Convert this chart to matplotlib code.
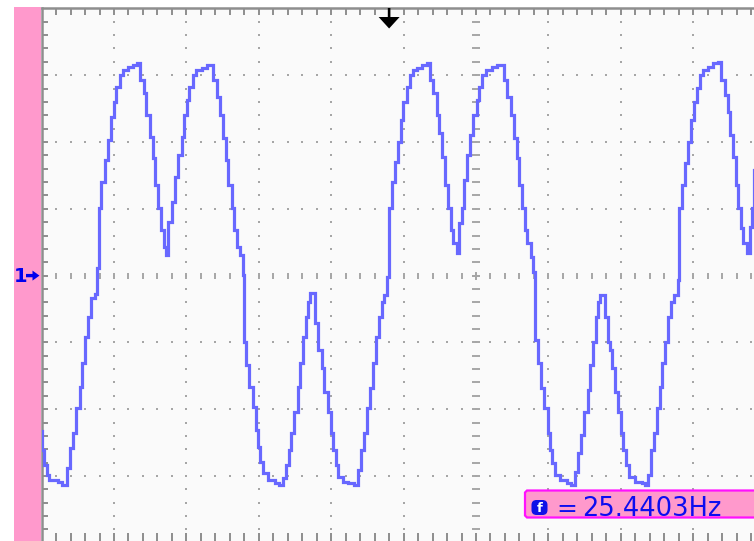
import numpy as np
import matplotlib
matplotlib.use("Agg")
import matplotlib.pyplot as plt
from matplotlib.patches import Polygon, Rectangle, FancyBboxPatch
from matplotlib.transforms import Affine2D, blended_transform_factory

# Channel 1 record: time (ms from the left screen edge) and amplitude (divisions)
time_ms = [
    0.00, 0.12, 0.40, 0.68, 1.02, 2.27, 2.82,
    3.55, 3.88, 4.34, 4.79, 5.26, 5.62, 6.04, 6.41, 6.86, 7.33,
    7.69, 7.93, 8.25, 8.72, 9.17, 9.54, 10.00, 10.32, 10.79, 11.24, 11.93, 12.62, 13.22,
    13.55, 14.14, 14.46, 14.93, 15.39, 15.70, 16.08, 16.45, 16.91, 17.22,
    17.50, 17.97, 18.43, 18.88, 19.35, 19.67, 20.04, 20.40, 20.87, 21.33, 22.11, 22.80,
    23.63, 24.19, 24.64, 25.01, 25.47, 25.79, 26.26, 26.57, 27.03, 27.40, 27.78,
    27.96, 28.23, 28.69, 29.16, 29.61, 29.93, 30.17, 30.62, 31.31, 32.24, 32.83,
    33.34, 33.76, 34.17, 34.45, 34.90, 35.37, 35.69, 36.15, 36.48, 36.84, 37.07,
    37.72, 38.22, 38.69, 39.05, 39.52, 39.97, 40.29, 40.62, 40.98, 41.67, 42.36, 43.19,
    43.66, 44.12, 44.57, 44.90, 45.36, 45.82, 46.15, 46.60, 46.98, 47.33, 47.67,
    47.98, 48.36, 48.81, 49.27, 49.64, 49.96, 50.43, 50.88, 51.30, 51.85, 52.50, 53.19,
    53.65, 54.10, 54.57, 54.93, 55.26, 55.72, 56.17, 56.51, 56.86, 57.33,
    57.69, 58.02, 58.34, 58.72, 59.17, 59.63, 60.10, 60.46, 60.79, 61.38, 62.17, 62.86,
    63.87, 64.32, 64.79, 65.25, 65.62, 65.98, 66.31, 66.77, 67.09, 67.56, 67.91,
    68.15, 68.52, 68.98, 69.43, 69.90, 70.22, 70.54, 70.91, 71.60, 72.53, 73.12,
    73.67, 74.05, 74.50, 74.96, 75.43, 75.75, 76.20, 76.53, 76.89, 77.13,
    77.82, 78.19, 78.51, 78.83, 79.20, 79.65, 80.03, 80.35, 80.68, 81.13, 81.96, 82.89, 83.34,
    83.80, 84.17, 84.63, 84.96, 85.41, 85.73, 86.10, 86.48, 86.93, 87.39, 87.86,
    88.08, 88.49, 88.87, 89.32, 89.70, 90.15, 90.48, 90.94, 91.40, 92.09, 92.78, 93.47,
    93.84, 94.39, 94.77, 95.08, 95.54, 95.87, 96.23, 96.60, 96.92, 97.39,
    97.85, 98.16, 98.40, 98.80,
]
amplitude_div = [
    -2.33, -2.61, -2.84, -2.99, -3.06, -3.09, -3.13,
    -2.88, -2.58, -2.36, -1.98, -1.67, -1.31, -0.92, -0.62, -0.34, -0.28,
    0.11, 1.01, 1.40, 1.73, 2.03, 2.37, 2.60, 2.82, 3.00, 3.08, 3.12, 3.15, 3.18,
    2.93, 2.73, 2.40, 2.07, 1.76, 1.36, 1.01, 0.68, 0.43, 0.31,
    0.80, 1.10, 1.48, 1.81, 2.07, 2.40, 2.63, 2.82, 3.00, 3.08, 3.11, 3.15,
    2.93, 2.67, 2.40, 2.06, 1.73, 1.36, 1.01, 0.68, 0.43, 0.31, 0.01,
    -0.99, -1.34, -1.67, -1.97, -2.31, -2.57, -2.79, -2.96, -3.06, -3.10, -3.13,
    -3.03, -2.84, -2.61, -2.36, -2.04, -1.67, -1.31, -0.92, -0.62, -0.40, -0.26,
    -0.71, -1.11, -1.38, -1.74, -2.04, -2.36, -2.61, -2.84, -3.01, -3.09, -3.10, -3.13,
    -2.91, -2.61, -2.36, -1.98, -1.68, -1.31, -0.92, -0.62, -0.40, -0.29, -0.02,
    1.01, 1.40, 1.70, 2.00, 2.33, 2.60, 2.82, 3.00, 3.08, 3.11, 3.15, 3.18,
    2.93, 2.73, 2.40, 2.13, 1.78, 1.36, 1.01, 0.68, 0.49, 0.34,
    0.79, 1.01, 1.43, 1.81, 2.10, 2.40, 2.63, 2.82, 3.00, 3.08, 3.12, 3.15,
    2.93, 2.67, 2.40, 2.06, 1.76, 1.36, 1.01, 0.68, 0.49, 0.28, 0.05,
    -0.96, -1.31, -1.68, -1.98, -2.36, -2.61, -2.81, -2.99, -3.06, -3.10, -3.13,
    -2.94, -2.66, -2.39, -2.04, -1.71, -1.34, -0.99, -0.62, -0.40, -0.29,
    -0.62, -0.99, -1.11, -1.38, -1.74, -2.04, -2.36, -2.61, -2.84, -3.01, -3.09, -3.10, -3.13,
    -2.99, -2.61, -2.36, -1.98, -1.67, -1.31, -0.99, -0.62, -0.40, -0.29, -0.07,
    1.01, 1.36, 1.69, 2.00, 2.33, 2.60, 2.81, 3.00, 3.08, 3.12, 3.18, 3.20,
    2.93, 2.70, 2.45, 2.10, 1.78, 1.36, 1.01, 0.71, 0.49, 0.34,
    0.73, 1.01, 1.58, 1.88,
]

channel_label = "1"
frequency_label = "25.4403Hz"
trigger_time_ms = 48.0
center_time_ms = 60.0
grid_times_ms = [10, 20, 30, 40, 50, 70, 80, 90]
grid_levels_div = [-3, -2, -1, 1, 2, 3]

W, H = 754, 541
fig = plt.figure(figsize=(W / 100, H / 100), dpi=100)
fig.patch.set_facecolor("white")

# screen pixel coordinates (origin top-left) for the surrounding decorations
px = Affine2D().scale(1 / W, -1 / H).translate(0, 1) + fig.transFigure

ax = fig.add_axes([41.6 / W, 0, 1 - 41.6 / W, 1 - 8.2 / H])
t_max = 98.4
v_min, v_max = -3.973, 4.003
ax.set_xlim(0, t_max)
ax.set_ylim(v_min, v_max)
ax.set_facecolor("#fafafa")
ax.set_xticks([])
ax.set_yticks([])
for side in ("right", "bottom"):
    ax.spines[side].set_visible(False)
for side in ("left", "top"):
    ax.spines[side].set_color("#8e8e8e")
    ax.spines[side].set_linewidth(1.8)

# graticule
dot_color = "#a6a6a6"
fine_t = np.arange(2, 99, 2)
fine_v = np.round(np.arange(-4.0, 4.01, 0.2), 2)
for t in grid_times_ms:
    ax.plot(np.full(fine_v.size, t), fine_v, "s", ms=1.5, mew=0, color=dot_color, zorder=1)
for v in grid_levels_div:
    ax.plot(fine_t, np.full(fine_t.size, v), "s", ms=1.5, mew=0, color=dot_color, zorder=1)
ax.plot(fine_t, np.zeros(fine_t.size), "|", ms=4.3, mew=1.4, color=dot_color, zorder=1)
ax.plot(np.full(fine_v.size, center_time_ms), fine_v, "_", ms=5.6, mew=1.4, color=dot_color, zorder=1)
ax.plot([center_time_ms], [0], "+", ms=6, mew=1.4, color=dot_color, zorder=1)

# edge ticks
edge = "#8e8e8e"
ax.hlines(fine_v, 0, 0.85, color=edge, lw=1.4, zorder=2)
ax.vlines(fine_t, v_max - 0.095, v_max, color=edge, lw=1.4, zorder=2)
ax.vlines(fine_t, v_min, v_min + 0.115, color=edge, lw=1.4, zorder=2)

# waveform
ax.plot(time_ms, amplitude_div, drawstyle="steps-post", color="#6868ff",
        lw=2.3, solid_joinstyle="miter", zorder=5)

# trigger position marker
trig = blended_transform_factory(ax.transData, px)
hw, sw = 1.45, 0.18
ax.add_patch(Polygon([(trigger_time_ms - sw, 8), (trigger_time_ms + sw, 8),
                      (trigger_time_ms + sw, 17), (trigger_time_ms + hw, 17),
                      (trigger_time_ms, 28.5), (trigger_time_ms - hw, 17),
                      (trigger_time_ms - sw, 17)],
                     closed=True, transform=trig, facecolor="black",
                     edgecolor="none", clip_on=False, zorder=6))

# left status strip with channel ground marker
fig.patches.append(Rectangle((14, 7), 26.5, 534, transform=px,
                             facecolor="#ff99cc", edgecolor="none", zorder=0))
gnd = blended_transform_factory(px, ax.transData)
fig.text(20.5, -0.095, channel_label, transform=gnd, ha="center", va="baseline",
         fontsize=14, fontweight="bold", color="#0000ee")
fig.patches.append(Polygon([(26, 0.025), (32.5, 0.025), (32.5, 0.075), (39.5, 0.0),
                            (32.5, -0.075), (32.5, -0.025), (26, -0.025)],
                           closed=True, transform=gnd, facecolor="#0000ee",
                           edgecolor="none", zorder=3))

# frequency readout
fig.patches.append(Polygon([(527, 490.5), (760, 490.5), (760, 517.5), (527, 517.5),
                            (525, 515.5), (525, 492.5)], closed=True, transform=px,
                           facecolor="#ff99cc", edgecolor="#ff10ff", lw=1.6, zorder=3))
fig.patches.append(FancyBboxPatch((531.5, 500), 16, 15, transform=px,
                                  boxstyle="round,pad=0,rounding_size=5",
                                  facecolor="#1010e8", edgecolor="none", zorder=4))
fig.text(539.5, 512.5, "f", transform=px, ha="center", va="baseline",
         fontsize=9.5, fontweight="bold", color="white", zorder=5)
fig.text(567, 516, "=", transform=px, ha="center", va="baseline",
         fontsize=18, color="#0c0cf0", zorder=5)
fig.text(582, 516, frequency_label, transform=px, ha="left", va="baseline",
         fontsize=18.5, color="#0c0cf0", zorder=5)

fig.savefig("out.png", dpi=100, facecolor="white")
